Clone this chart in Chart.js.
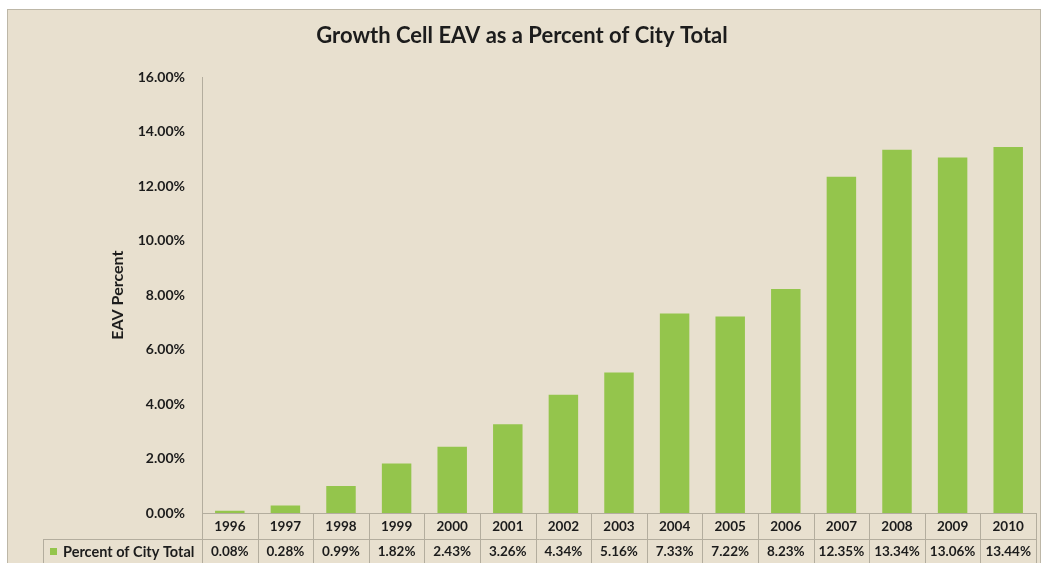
<!DOCTYPE html>
<html>
<head>
<meta charset="utf-8">
<script src="https://cdn.jsdelivr.net/npm/chart.js@4.4.1/dist/chart.umd.min.js"></script>
<style>
    html, body { margin: 0; padding: 0; background: #ffffff; }
    #frame {
        position: absolute;
        left: 7px;
        top: 9px;
        width: 1032px;
        height: 554px;
        background: #e8e0cf;
        border: 1px solid #bdb7a7;
        border-bottom: none;
    }
    canvas { display: block; }
</style>
</head>
<body>
<div id="frame"><canvas id="eavChart" width="1032" height="554"></canvas></div>
<script>
// 年ごとのデータ
const years = ['1996', '1997', '1998', '1999', '2000', '2001', '2002', '2003',
               '2004', '2005', '2006', '2007', '2008', '2009', '2010'];
const percentOfCityTotal = [0.08, 0.28, 0.99, 1.82, 2.43, 3.26, 4.34, 5.16,
                            7.33, 7.22, 8.23, 12.35, 13.34, 13.06, 13.44];
const seriesLabel = 'Percent of City Total';
const yTicks = [0, 2, 4, 6, 8, 10, 12, 14, 16];

const FONT = 'Lato, "Open Sans", sans-serif';
const TEXT_COLOR = '#1c1c1c';
const LINE_COLOR = '#b3ad9e';
const BAR_COLOR = '#94c54c';

const fmtPct = v => v.toFixed(2) + '%';

/**
 * グラフ下のデータテーブルを描画するプラグイン
 */
const dataTablePlugin = {
    id: 'dataTable',
    afterDraw(chart) {
        const ctx = chart.ctx;
        const x = chart.scales.x;
        const area = chart.chartArea;
        const colW = x.getPixelForValue(1) - x.getPixelForValue(0);
        const rowH = 26;
        const top = area.bottom;
        const legendLeft = 35;
        const right = area.left + colW * years.length;
        const bottom = chart.height;

        ctx.save();
        ctx.strokeStyle = LINE_COLOR;
        ctx.lineWidth = 1;

        // 横線
        ctx.beginPath();
        ctx.moveTo(area.left, top + 0.5);
        ctx.lineTo(right, top + 0.5);
        ctx.moveTo(legendLeft, top + rowH + 0.5);
        ctx.lineTo(right, top + rowH + 0.5);
        // 縦線
        for (let i = 0; i <= years.length; i++) {
            const px = Math.round(area.left + colW * i) + 0.5;
            ctx.moveTo(px, top);
            ctx.lineTo(px, bottom);
        }
        ctx.moveTo(legendLeft + 0.5, top + rowH);
        ctx.lineTo(legendLeft + 0.5, bottom);
        ctx.stroke();

        // 年と値
        ctx.fillStyle = TEXT_COLOR;
        ctx.textAlign = 'center';
        ctx.textBaseline = 'middle';
        ctx.font = 'bold 13.5px ' + FONT;
        years.forEach((year, i) => {
            const cx = x.getPixelForValue(i);
            ctx.fillText(year, cx, top + rowH / 2 + 1);
            ctx.fillText(fmtPct(percentOfCityTotal[i]), cx, top + rowH + 13);
        });

        // 凡例
        ctx.fillStyle = BAR_COLOR;
        ctx.fillRect(legendLeft + 7, top + rowH + 9, 7, 7);
        ctx.fillStyle = TEXT_COLOR;
        ctx.textAlign = 'left';
        ctx.font = 'bold 14.5px ' + FONT;
        ctx.fillText(seriesLabel, legendLeft + 20, top + rowH + 13);
        ctx.restore();
    }
};

const ctx = document.getElementById('eavChart').getContext('2d');
new Chart(ctx, {
    type: 'bar',
    data: {
        labels: years,
        datasets: [{
            label: seriesLabel,
            data: percentOfCityTotal,
            backgroundColor: BAR_COLOR,
            borderWidth: 0,
            categoryPercentage: 1.0,
            barPercentage: 0.53
        }]
    },
    options: {
        responsive: false,
        animation: false,
        devicePixelRatio: 1,
        layout: {
            padding: { top: 0, right: 4, bottom: 43, left: 0 }
        },
        plugins: {
            legend: { display: false },
            tooltip: { enabled: false },
            title: {
                display: true,
                text: 'Growth Cell EAV as a Percent of City Total',
                color: TEXT_COLOR,
                font: { family: FONT, size: 22, weight: 'bold' },
                padding: { top: 13, bottom: 28 }
            }
        },
        scales: {
            x: {
                grid: { display: false },
                border: { display: false },
                ticks: { display: false }
            },
            y: {
                min: 0,
                max: 16,
                afterBuildTicks: scale => {
                    scale.ticks = yTicks.map(v => ({ value: v }));
                },
                afterFit: scale => { scale.width = 194; },
                grid: { display: false, drawTicks: false },
                border: { display: true, color: LINE_COLOR },
                ticks: {
                    padding: 17,
                    color: TEXT_COLOR,
                    font: { family: FONT, size: 14, weight: 'bold' },
                    callback: v => fmtPct(v)
                },
                title: {
                    display: true,
                    text: 'EAV Percent',
                    color: TEXT_COLOR,
                    font: { family: FONT, size: 16, weight: 'bold' },
                    padding: { top: 100, bottom: 0 }
                }
            }
        }
    },
    plugins: [dataTablePlugin]
});
</script>
</body>
</html>
